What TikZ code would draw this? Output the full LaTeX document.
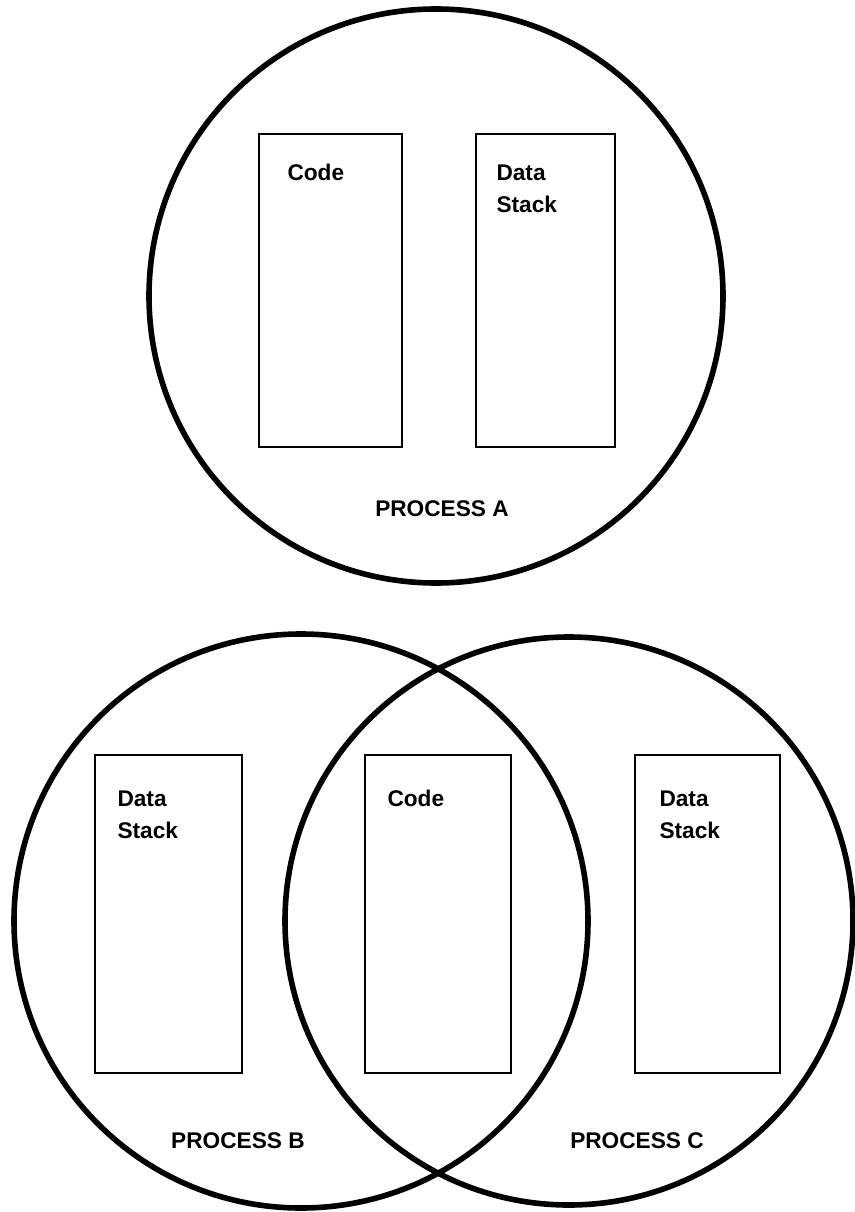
\documentclass[tikz,border=0pt]{standalone}
\usepackage{fontspec}
\setmainfont{Liberation Sans}
\begin{document}
\tikzset{every picture/.style={line width=0.75pt}}

\begin{tikzpicture}[x=0.75pt,y=0.75pt,yscale=-1,xscale=1,
  procring/.style={line width=4.2pt},
  segbox/.style={line width=2.2pt},
  seglabel/.style={anchor=north west,inner sep=0pt,align=left,font=\bfseries\fontsize{17}{24}\selectfont},
  proclabel/.style={anchor=base,inner sep=0pt,font=\bfseries\fontsize{17}{24}\selectfont}]
\useasboundingbox (0,0) rectangle (855,1212);

%Shape: Circle [process A]
\draw [procring] (436,296) circle (287);
%Shape: Circle [process B]
\draw [procring] (301,921) circle (287);
%Shape: Circle [process C]
\draw [procring] (569,921) circle (284);

%Shape: Rectangle [A code]
\draw [segbox] (259,134) rectangle (402,447);
%Shape: Rectangle [A data]
\draw [segbox] (476,134) rectangle (615,447);
%Shape: Rectangle [B data]
\draw [segbox] (95,755) rectangle (242,1073);
%Shape: Rectangle [shared code]
\draw [segbox] (365,755) rectangle (511,1073);
%Shape: Rectangle [C data]
\draw [segbox] (635,755) rectangle (780,1073);

% Text Node
\node [seglabel] (codeA) at (287,164) {Code};
% Text Node
\node [seglabel] (dataA) at (496,164) {Data\\Stack};
% Text Node
\node [proclabel] (procA) at (442,516) {PROCESS A};
% Text Node
\node [seglabel] (dataB) at (117,790) {Data\\Stack};
% Text Node
\node [seglabel] (codeBC) at (387,790) {Code};
% Text Node
\node [seglabel] (dataC) at (659,790) {Data\\Stack};
% Text Node
\node [proclabel] (procB) at (238,1148) {PROCESS B};
% Text Node
\node [proclabel] (procC) at (637,1148) {PROCESS C};

\end{tikzpicture}
\end{document}
